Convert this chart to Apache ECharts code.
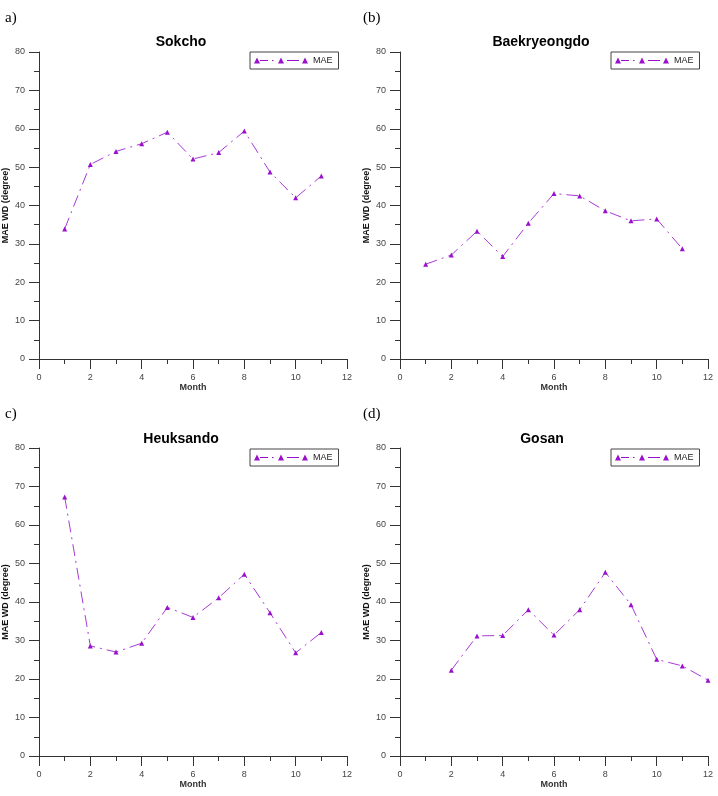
<!DOCTYPE html>
<html><head><meta charset="utf-8">
<script src="https://cdn.jsdelivr.net/npm/echarts@6/dist/echarts.min.js"></script>
<style>html,body{margin:0;padding:0;background:#fff}#c{width:718px;height:796px}</style>
</head><body><div id="c"></div>
<script>
const stations = ['Sokcho', 'Baekryeongdo', 'Heuksando', 'Gosan'];
const panelLabels = ['a)', '(b)', 'c)', '(d)'];
const sokchoMonths = [1,2,3,4,5,6,7,8,9,10,11];
const sokchoMAE = [33.9,50.7,54.1,56.1,59.1,52.1,53.8,59.4,48.7,42.0,47.7];
const baekMonths = [1,2,3,4,5,6,7,8,9,10,11];
const baekMAE = [24.7,27.1,33.3,26.7,35.4,43.1,42.5,38.6,36.0,36.5,28.7];
const heukMonths = [1,2,3,4,5,6,7,8,9,10,11];
const heukMAE = [67.3,28.6,27.0,29.3,38.6,36.0,41.1,47.2,37.2,26.8,32.1];
const gosanMonths = [2,3,4,5,6,7,8,9,10,11,12];
const gosanMAE = [22.3,31.2,31.3,38.0,31.4,38.0,47.7,39.3,25.1,23.4,19.7];
const xTicks = [0,2,4,6,8,10,12];
const yTicks = [0,10,20,30,40,50,60,70,80];

const monthsList = [sokchoMonths, baekMonths, heukMonths, gosanMonths];
const maeList = [sokchoMAE, baekMAE, heukMAE, gosanMAE];

const grids = [
  {left:39, top:52, width:308, height:307},
  {left:400, top:52, width:308, height:307},
  {left:39, top:448, width:308, height:308},
  {left:400, top:448, width:308, height:308}
];
const titlePos = [[176,30],[536,30],[176,427],[537,427]];
const labelPos = [[0,6],[358,6],[0,402],[358,402]];
const legendPos = [[250,52],[611,52],[250,449],[611,449]];

const axisColor = '#333';
const purple = '#9a10cc';
const lineColor = '#a83ad6';
const font = 'Liberation Sans, Arial, sans-serif';

// legend icon: triangle, dash, triangle, dash, triangle
const iconPath = 'path://M0,6L3,0L6,6Z M6,2.6L14,2.6L14,3.4L6,3.4Z M18,2.6L19.5,2.6L19.5,3.4L18,3.4Z M24,6L27,0L30,6Z M33,2.6L45,2.6L45,3.4L33,3.4Z M48,6L51,0L54,6Z';

const option = {
  animation:false,
  backgroundColor:'#fff',
  title:[],
  legend:[],
  grid:grids,
  xAxis:[], yAxis:[], series:[]
};
for (let i=0;i<4;i++){
  option.title.push({text:stations[i], left:titlePos[i][0], top:titlePos[i][1], textAlign:'center',
    textStyle:{fontFamily:font, fontSize:14, fontWeight:'bold', color:'#000'}});
  option.title.push({text:panelLabels[i], left:labelPos[i][0], top:labelPos[i][1],
    textStyle:{fontFamily:'Liberation Serif, Times New Roman, serif', fontSize:15, fontWeight:'normal', color:'#000'}});
  option.legend.push({
    data:[{name:'MAE', icon:iconPath}], left:legendPos[i][0], top:legendPos[i][1],
    orient:'horizontal', padding:[4,6,4,4], itemWidth:54, itemHeight:6, itemGap:5,
    borderColor:'#444', borderWidth:1, selectedMode:false,
    textStyle:{fontFamily:font, fontSize:9, color:'#222', padding:[0,0,0,0]}
  });
  option.xAxis.push({
    gridIndex:i, type:'value', min:0, max:12, interval:2,
    name:'Month', nameLocation:'middle', nameGap:24,
    nameTextStyle:{fontFamily:font, fontSize:9, fontWeight:'bold', color:'#333'},
    axisLine:{show:true, onZero:false, lineStyle:{color:axisColor, width:1}},
    axisTick:{show:true, inside:false, length:10, lineStyle:{color:axisColor}},
    minorTick:{show:true, splitNumber:2, length:5, lineStyle:{color:axisColor}},
    splitLine:{show:false},
    axisLabel:{margin:14, fontFamily:font, fontSize:9, color:'#444',
      formatter: v => xTicks.includes(v) ? String(v) : ''}
  });
  option.yAxis.push({
    gridIndex:i, type:'value', min:0, max:80, interval:10,
    name:'MAE WD (degree)', nameLocation:'middle', nameGap:29,
    nameTextStyle:{fontFamily:font, fontSize:9, fontWeight:'bold', color:'#111'},
    axisLine:{show:true, lineStyle:{color:axisColor, width:1}},
    axisTick:{show:true, inside:false, length:10, lineStyle:{color:axisColor}},
    minorTick:{show:true, splitNumber:2, length:5, lineStyle:{color:axisColor}},
    splitLine:{show:false},
    axisLabel:{margin:14, fontFamily:font, fontSize:9, color:'#444',
      formatter: v => yTicks.includes(v) ? String(v) : ''}
  });
  option.series.push({
    name:'MAE', type:'line', xAxisIndex:i, yAxisIndex:i,
    data: monthsList[i].map((m,k)=>[m, maeList[i][k]]),
    symbol:'triangle', symbolSize:5, showSymbol:true,
    itemStyle:{color:purple},
    lineStyle:{color:lineColor, width:1, type:[12,5,2,5]}
  });
}
const chart = echarts.init(document.getElementById('c'), null, {renderer:'canvas'});
chart.setOption(option);
</script></body></html>
